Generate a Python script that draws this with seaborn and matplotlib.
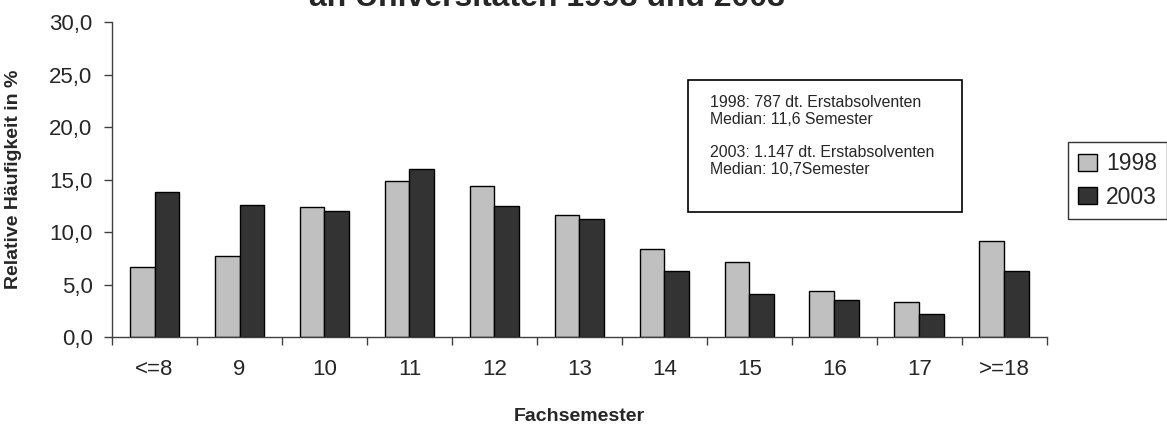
import pandas as pd
import numpy as np
import matplotlib.pyplot as plt
import seaborn as sns
from matplotlib.ticker import FuncFormatter, FixedLocator
from matplotlib.patches import Rectangle

# Fachsemester-Klassen und relative Häufigkeiten (in %)
semester = ['<=8', '9', '10', '11', '12', '13', '14', '15', '16', '17', '>=18']
werte_1998 = [6.7, 7.7, 12.4, 14.9, 14.4, 11.6, 8.4, 7.1, 4.4, 3.3, 9.1]
werte_2003 = [13.8, 12.6, 12.0, 16.0, 12.5, 11.2, 6.3, 4.1, 3.5, 2.2, 6.3]
jahre = ['1998', '2003']
farben = ['#C0C0C0', '#333333']

infotext = ("1998: 787 dt. Erstabsolventen\nMedian: 11,6 Semester\n\n"
            "2003: 1.147 dt. Erstabsolventen\nMedian: 10,7Semester")

df = pd.DataFrame({
    'Fachsemester': semester * 2,
    'Wert': werte_1998 + werte_2003,
    'Jahr': [jahre[0]] * len(semester) + [jahre[1]] * len(semester),
})

sns.set_style('white')
plt.rcParams['font.family'] = ['Liberation Sans', 'DejaVu Sans']

W, H = 1167, 425
fig = plt.figure(figsize=(W / 100, H / 100), dpi=100)
ax = fig.add_axes([0.096, 0.207, 0.801, 0.741])

sns.barplot(data=df, x='Fachsemester', y='Wert', hue='Jahr', order=semester,
            hue_order=jahre, palette=farben, width=0.585, gap=0,
            edgecolor='black', linewidth=1.0, saturation=1, ax=ax)

ax.set_ylim(0, 30)
ax.set_xlim(-0.5, len(semester) - 0.5)
ax.set_yticks(np.arange(0, 31, 5))
ax.yaxis.set_major_formatter(FuncFormatter(lambda v, p: f'{v:.1f}'.replace('.', ',')))
ax.xaxis.set_minor_locator(FixedLocator(np.arange(-0.5, len(semester), 1.0)))

ax.tick_params(axis='x', which='major', length=0, labelsize=16, pad=16)
ax.tick_params(axis='x', which='minor', length=6, width=1, color='#404040', direction='out')
ax.tick_params(axis='y', which='major', length=6, width=1, color='#404040',
               direction='out', labelsize=16, pad=8)
ax.tick_params(axis='both', bottom=True, left=True)
ax.xaxis.set_tick_params(which='minor', bottom=True)

sns.despine(ax=ax)
for s in ['left', 'bottom']:
    ax.spines[s].set_color('#404040')
    ax.spines[s].set_linewidth(1)

ax.set_xlabel('Fachsemester', fontsize=14, fontweight='bold')
ax.set_ylabel('Relative Häufigkeit in %', fontsize=14, fontweight='bold')
ax.xaxis.set_label_coords(0.5, -0.225)
ax.yaxis.set_label_coords(-0.096, 0.5)

# Titel (erste Zeile liegt oberhalb des Bildrands)
fig.text(547 / W, 1 - 6.5 / H, 'an Universitäten 1998 und 2003',
         fontsize=23, fontweight='bold', ha='center', va='baseline')

# Infokasten
fig.patches.append(Rectangle((688 / W, 1 - 212 / H), 274 / W, 132 / H,
                             transform=fig.transFigure, facecolor='white',
                             edgecolor='black', linewidth=1.2, zorder=5))
fig.text(710 / W, 1 - 95 / H, infotext, fontsize=11.4, ha='left', va='top',
         linespacing=1.15, zorder=6)

leg = ax.legend(loc='upper left', bbox_to_anchor=(1068 / W, 1 - 142 / H),
                bbox_transform=fig.transFigure, borderaxespad=0, fontsize=16.5,
                handlelength=0.8, handleheight=0.8, handletextpad=0.4,
                labelspacing=0.45, borderpad=0.45, fancybox=False, title=None)
leg.get_frame().set_edgecolor('black')
leg.get_frame().set_linewidth(1)

fig.savefig('out.png', dpi=100)
